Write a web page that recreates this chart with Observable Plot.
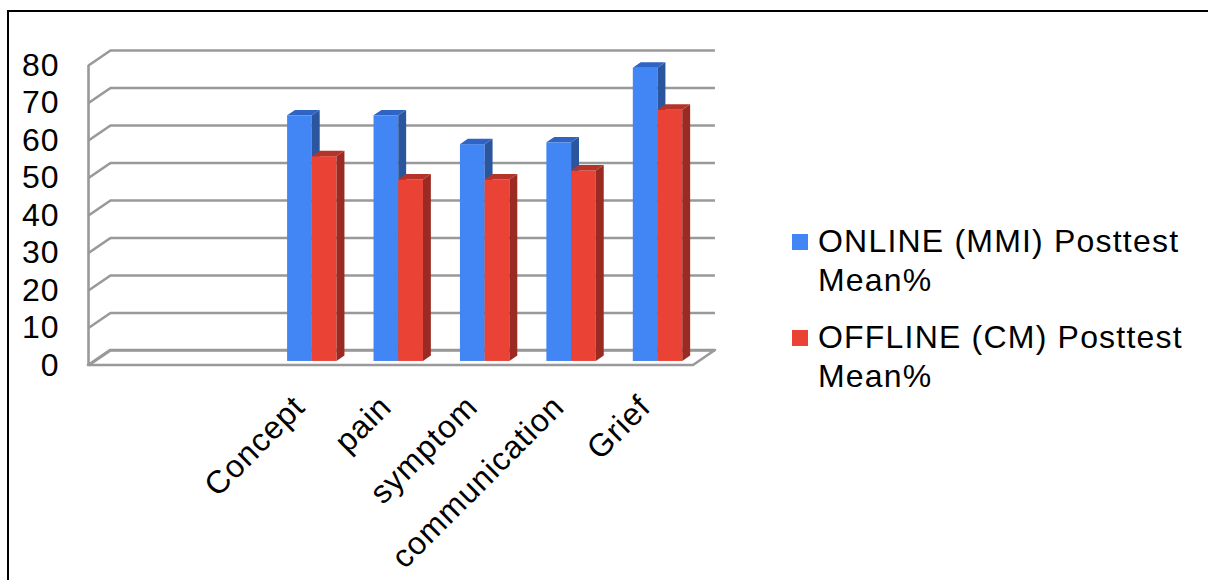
<!DOCTYPE html>
<html><head><meta charset="utf-8">
<script src="https://cdn.jsdelivr.net/npm/d3@7"></script>
<script src="https://cdn.jsdelivr.net/npm/@observablehq/plot@0.6"></script>
<style>
html,body{margin:0;padding:0;background:#fff;width:1208px;height:580px;overflow:hidden;font-family:"Liberation Sans",Arial,sans-serif;}
#frame{position:absolute;left:7px;top:10px;width:1300px;height:700px;border-left:2px solid #000;border-top:2px solid #000;}
#chart{position:absolute;left:0;top:0;}
#legend{position:absolute;left:792px;top:0;font-size:32px;letter-spacing:1.2px;color:#000;}
.item{position:absolute;left:0;white-space:nowrap;line-height:39px;}
.sw{position:absolute;left:0;width:16px;height:16px;}
.tx{position:absolute;left:26px;top:0;}
</style></head><body>
<div id="frame"></div>
<div id="chart"></div>
<div id="legend"></div>
<script>
// ---- data ----
const categories = ["Concept", "pain", "symptom", "communication", "Grief"];
const online = [65.5, 65.5, 57.8, 58.3, 78.2];
const offline = [54.6, 48.4, 48.4, 50.8, 67.0];
const seriesNames = [["ONLINE (MMI) Posttest", "Mean%"], ["OFFLINE (CM) Posttest", "Mean%"]];
const yTicks = [0, 10, 20, 30, 40, 50, 60, 70, 80];
const emptySlots = 2; // blank category slots before the first category

// ---- style ----
const frontColors = ["#4285F4", "#EA4335"];
const sideColors = ["#2B569E", "#9A2A22"];
const topColors = ["#2F63C4", "#B5342A"];
const grid = "#999999";
const nSlots = emptySlots + categories.length;
// 3D projection (depth offset expressed in scale units)
const DX = 0.254, DY = 4, F1 = 0.27, F2 = 0.63, GAP = 0.235, W = 0.286;

const bars = [];
[online, offline].forEach((vals, s) => vals.forEach((v, i) => {
  const x1 = emptySlots + i + GAP + F1 * DX + s * W;
  bars.push({s, i, v, x1, x2: x1 + W, yb: F1 * DY, yt: v + F1 * DY, id: s + "-" + i});
}));
const side = bars.flatMap(b => [
  {s: b.s, id: b.id, x: b.x2, y1: F1 * DY, y2: b.v + F1 * DY},
  {s: b.s, id: b.id, x: b.x2 + (F2 - F1) * DX, y1: F2 * DY, y2: b.v + F2 * DY}
]);
const tops = bars.flatMap(b => [
  {s: b.s, id: b.id, y: b.v + F1 * DY, x1: b.x1, x2: b.x2},
  {s: b.s, id: b.id, y: b.v + F2 * DY, x1: b.x1 + (F2 - F1) * DX, x2: b.x2 + (F2 - F1) * DX}
]);
const yMax = yTicks[yTicks.length - 1];

const marks = [
  Plot.areaX([{y: 0, x1: 0, x2: nSlots}, {y: DY, x1: DX, x2: nSlots + DX}],
    {y: "y", x1: "x1", x2: "x2", fill: "white", stroke: grid, strokeWidth: 2.6}),
  Plot.ruleY(yTicks, {y: d => d + DY, x1: () => DX, x2: () => nSlots + DX, stroke: grid, strokeWidth: 2.6}),
  Plot.link(yTicks, {x1: () => 0, y1: d => d, x2: () => DX, y2: d => d + DY, stroke: grid, strokeWidth: 2.6}),
  Plot.ruleX([0], {x: d => d, y1: () => 0, y2: () => yMax, stroke: grid, strokeWidth: 2.6})
];
[0, 1].forEach(s => {
  marks.push(
    Plot.rect(bars.filter(b => b.s === s), {x1: "x1", x2: "x2", y1: "yb", y2: "yt", fill: frontColors[s]}),
    Plot.areaY(side.filter(d => d.s === s), {x: "x", y1: "y1", y2: "y2", z: "id", fill: sideColors[s]}),
    Plot.areaX(tops.filter(d => d.s === s), {y: "y", x1: "x1", x2: "x2", z: "id", fill: topColors[s]})
  );
});
marks.push(
  Plot.axisY(yTicks, {tickSize: 0, tickPadding: 29, fontSize: 32, tickFormat: d => String(d)}),
  Plot.axisX(categories.map((c, i) => emptySlots + i + 0.5), {
    tickFormat: d => categories[Math.round(d - emptySlots - 0.5)],
    tickRotate: -45, tickSize: 0, tickPadding: 36, dx: -5, fontSize: 32
  })
);

const chart = Plot.plot({
  width: 760, height: 580,
  marginLeft: 88, marginRight: 67, marginTop: 65, marginBottom: 215,
  x: {domain: [0, nSlots], label: null},
  y: {domain: [0, 80], label: null},
  style: {fontFamily: "'Liberation Sans', Arial, sans-serif", letterSpacing: "1px", color: "#000", background: "transparent"},
  marks
});
document.getElementById("chart").appendChild(chart);

// legend
const lg = document.getElementById("legend");
const itemTops = [222, 318];
seriesNames.forEach((lines, s) => {
  const it = document.createElement("div");
  it.className = "item";
  it.style.top = itemTops[s] + "px";
  const sw = document.createElement("div");
  sw.className = "sw";
  sw.style.background = frontColors[s];
  sw.style.top = "12px";
  const tx = document.createElement("div");
  tx.className = "tx";
  tx.innerHTML = lines.join("<br>");
  it.appendChild(sw); it.appendChild(tx);
  lg.appendChild(it);
});
</script>
</body></html>
